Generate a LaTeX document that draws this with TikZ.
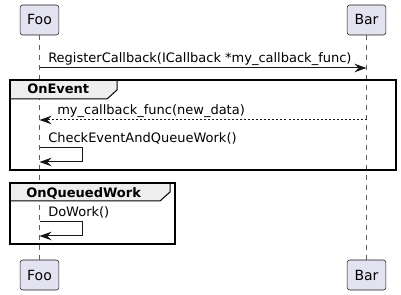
\documentclass[tikz,border=0pt]{standalone}
\usepackage{fontspec}
\setmainfont{DejaVu Sans}
\usetikzlibrary{arrows.meta,positioning}
\definecolor{partfill}{HTML}{E2E2F0}
\definecolor{partline}{HTML}{181818}
\definecolor{tabfill}{HTML}{EEEEEE}
\tikzset{
  seq/participant/.style={draw=partline, fill=partfill, rounded corners=1.9pt, line width=0.4pt, minimum width=29pt, minimum height=22.5pt, inner sep=0pt, font=\fontsize{10.5}{12}\selectfont},
  seq/life/.style={draw=partline!70, dash pattern=on 3.75pt off 3.75pt, line width=0.4pt},
  seq/msg/.style={draw=partline, line width=0.75pt, -{Stealth[length=9pt,width=6.4pt,inset=3pt]}},
  seq/reply/.style={seq/msg, dash pattern=on 1.5pt off 1.5pt},
  seq/text/.style={anchor=base west, inner sep=0pt, font=\fontsize{9.75}{11}\selectfont},
  seq/frame/.style={draw=black, line width=1.1pt},
  seq/tab/.style={draw=black, line width=0.75pt, fill=tabfill},
  seq/title/.style={anchor=base west, inner sep=0pt, font=\bfseries\fontsize{9.75}{11}\selectfont}
}

\begin{document}
\begin{tikzpicture}[x=0.75pt, y=-0.75pt]
  \useasboundingbox (0,0) rectangle (401,295);

  % participants
  \node[seq/participant] (foo-top) at (39.5,20) {Foo};
  \node[seq/participant] (bar-top) at (366.5,20) {Bar};
  \node[seq/participant] (foo-bot) at (39.5,275) {Foo};
  \node[seq/participant] (bar-bot) at (366.5,275) {Bar};

  \draw[seq/life] (foo-top) -- (foo-bot);
  \draw[seq/life] (bar-top) -- (bar-bot);

  % groups
  \coordinate (ev-nw) at (10,80);
  \coordinate (ev-se) at (396,170);
  \draw[seq/tab] (ev-nw) -- (117,80) -- (117,90) -- (107,99) -- (10,99) -- cycle;
  \draw[seq/frame] (ev-nw) rectangle (ev-se);
  \node[seq/title] (ev-title) at (27,94) {OnEvent};

  \coordinate (qw-nw) at (10,183);
  \coordinate (qw-se) at (175,244);
  \draw[seq/tab] (qw-nw) -- (170,183) -- (170,192) -- (160,201) -- (10,201) -- cycle;
  \draw[seq/frame] (qw-nw) rectangle (qw-se);
  \node[seq/title] (qw-title) at (26,198) {OnQueuedWork};

  % messages
  \coordinate (foo-m1) at (39.5,68);
  \coordinate (bar-m1) at (366.5,68);
  \draw[seq/msg] (foo-m1) -- (bar-m1);
  \node[seq/text] (m1) at (48,63) {RegisterCallback(ICallback *my\_callback\_func)};

  \coordinate (bar-m2) at (366.5,120);
  \coordinate (foo-m2) at (39.5,120);
  \draw[seq/reply] (bar-m2) -- (foo-m2);
  \node[seq/text] (m2) at (57,115) {my\_callback\_func(new\_data)};

  \coordinate (foo-m3a) at (39.5,148);
  \coordinate (foo-m3b) at (39.5,162);
  \draw[seq/msg] (foo-m3a) -- (82,148) -- (82,162) -- (foo-m3b);
  \node[seq/text] (m3) at (48,143) {CheckEventAndQueueWork()};

  \coordinate (foo-m4a) at (39.5,222);
  \coordinate (foo-m4b) at (39.5,236);
  \draw[seq/msg] (foo-m4a) -- (82,222) -- (82,236) -- (foo-m4b);
  \node[seq/text] (m4) at (48,217) {DoWork()};
\end{tikzpicture}
\end{document}
